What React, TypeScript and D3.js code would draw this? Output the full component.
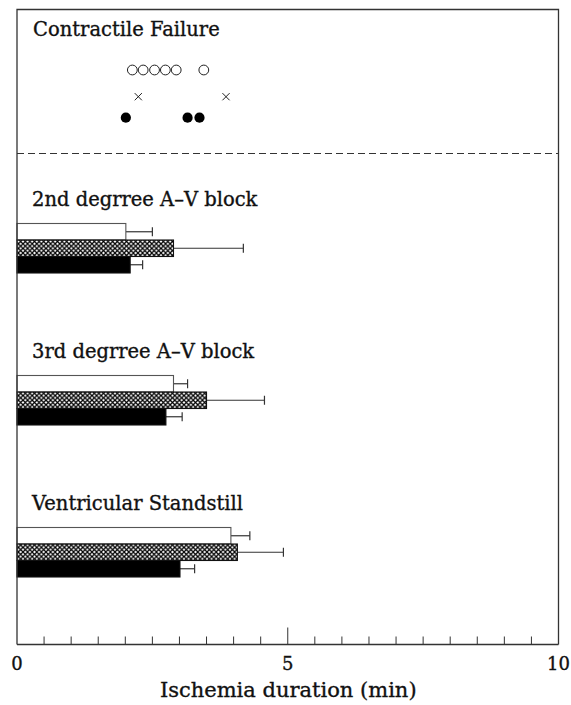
import React from "react";
import * as d3 from "d3";

const W = 571;
const H = 705;

// Contractile failure individual values (min)
const cfOpen = [2.13, 2.33, 2.54, 2.74, 2.94, 3.45];
const cfCross = [2.24, 3.86];
const cfFilled = [2.01, 3.15, 3.37];

// Bar groups
const barCategories = ["2nd degrree A\u2013V block", "3rd degrree A\u2013V block", "Ventricular Standstill"];
const seriesKeys = ["open", "hatched", "filled"];
const openMeans = [2.01, 2.89, 3.95];
const openErr = [0.49, 0.26, 0.35];
const hatchedMeans = [2.89, 3.5, 4.07];
const hatchedErr = [1.29, 1.07, 0.85];
const filledMeans = [2.09, 2.75, 3.01];
const filledErr = [0.23, 0.3, 0.27];

const xTicks = [0, 5, 10];
const xMinorStep = 0.5;

const FONT = "'DejaVu Serif', serif";

export default function App() {
  const left = 17;
  const right = 558.5;
  const top = 9.5;
  const axisY = 644.5;

  const x = d3.scaleLinear().domain([0, 10]).range([left, right]);
  const yGroup = d3.scaleBand<string>().domain(barCategories).range([166, 166 + 152 * 3]).paddingInner(0);
  const ySeries = d3.scaleBand<string>().domain(seriesKeys).range([0, 49.5]).padding(0);

  const meansBy: Record<string, number[]> = { open: openMeans, hatched: hatchedMeans, filled: filledMeans };
  const errBy: Record<string, number[]> = { open: openErr, hatched: hatchedErr, filled: filledErr };
  const fillBy: Record<string, string> = { open: "#fff", hatched: "url(#xhatch)", filled: "#000" };

  const minor = d3.range(xMinorStep, 10, xMinorStep);
  const bh = ySeries.bandwidth();
  const textStyle = { fontFamily: FONT, fill: "#111", stroke: "#111", strokeWidth: 0.35 } as const;

  return (
    <svg width={W} height={H} style={{ position: "absolute", left: 0, top: 0 }}>
      <defs>
        <pattern id="xhatch" width="4.6" height="4.6" patternUnits="userSpaceOnUse">
          <rect width="4.6" height="4.6" fill="#fff" />
          <path d="M-1,-1L5.6,5.6M-1,5.6L5.6,-1" stroke="#000" strokeWidth="1.25" />
        </pattern>
      </defs>
      <rect x={0} y={0} width={W} height={H} fill="#fff" />

      {/* Contractile failure panel */}
      <text x={33} y={36} fontSize={19.5} {...textStyle}>Contractile Failure</text>
      {cfOpen.map((v, i) => (
        <circle key={"o" + i} cx={x(v)} cy={70} r={4.9} fill="#fff" stroke="#222" strokeWidth={1} />
      ))}
      {cfCross.map((v, i) => (
        <path key={"c" + i} d={`M${x(v) - 3.6},${96.7 - 3.6}L${x(v) + 3.6},${96.7 + 3.6}M${x(v) - 3.6},${96.7 + 3.6}L${x(v) + 3.6},${96.7 - 3.6}`} stroke="#222" strokeWidth={1} />
      ))}
      {cfFilled.map((v, i) => (
        <circle key={"f" + i} cx={x(v)} cy={117.7} r={5.1} fill="#000" />
      ))}
      <line x1={left} x2={right} y1={153.5} y2={153.5} stroke="#333" strokeWidth={1} strokeDasharray="7,4" />

      {/* Bar groups */}
      {barCategories.map((cat, gi) => {
        const g0 = yGroup(cat)!;
        return (
          <g key={cat}>
            <text x={32} y={g0 + 40} fontSize={19.5} {...textStyle}>{cat}</text>
            {seriesKeys.map((k) => {
              const y0 = g0 + 57.5 + ySeries(k)!;
              const m = meansBy[k][gi];
              const e = errBy[k][gi];
              const ym = y0 + bh / 2;
              return (
                <g key={k}>
                  <line x1={x(m)} x2={x(m + e)} y1={ym} y2={ym} stroke="#333" strokeWidth={1.2} />
                  <line x1={x(m + e)} x2={x(m + e)} y1={ym - 4.5} y2={ym + 4.5} stroke="#333" strokeWidth={1.2} />
                  <rect x={x(0)} y={y0} width={x(m) - x(0)} height={bh} fill={fillBy[k]} stroke={k === "open" ? "#555" : "#111"} strokeWidth={1.1} />
                </g>
              );
            })}
          </g>
        );
      })}

      {/* Frame */}
      <path d={`M${left},${axisY}L${left},${top}L${right},${top}L${right},${axisY}`} fill="none" stroke="#333" strokeWidth={1.3} />
      <line x1={left} x2={right} y1={axisY} y2={axisY} stroke="#333" strokeWidth={1.3} />
      {minor.map((v) => (
        <line key={v} x1={x(v)} x2={x(v)} y1={axisY} y2={axisY - (v === 5 ? 17 : 8)} stroke="#333" strokeWidth={1} />
      ))}
      {xTicks.map((v) => (
        <text key={v} x={x(v)} y={670} textAnchor="middle" fontSize={18} {...textStyle}>{v}</text>
      ))}
      <text x={(left + right) / 2 + 0.5} y={697} textAnchor="middle" fontSize={21} {...textStyle}>Ischemia duration (min)</text>
    </svg>
  );
}
